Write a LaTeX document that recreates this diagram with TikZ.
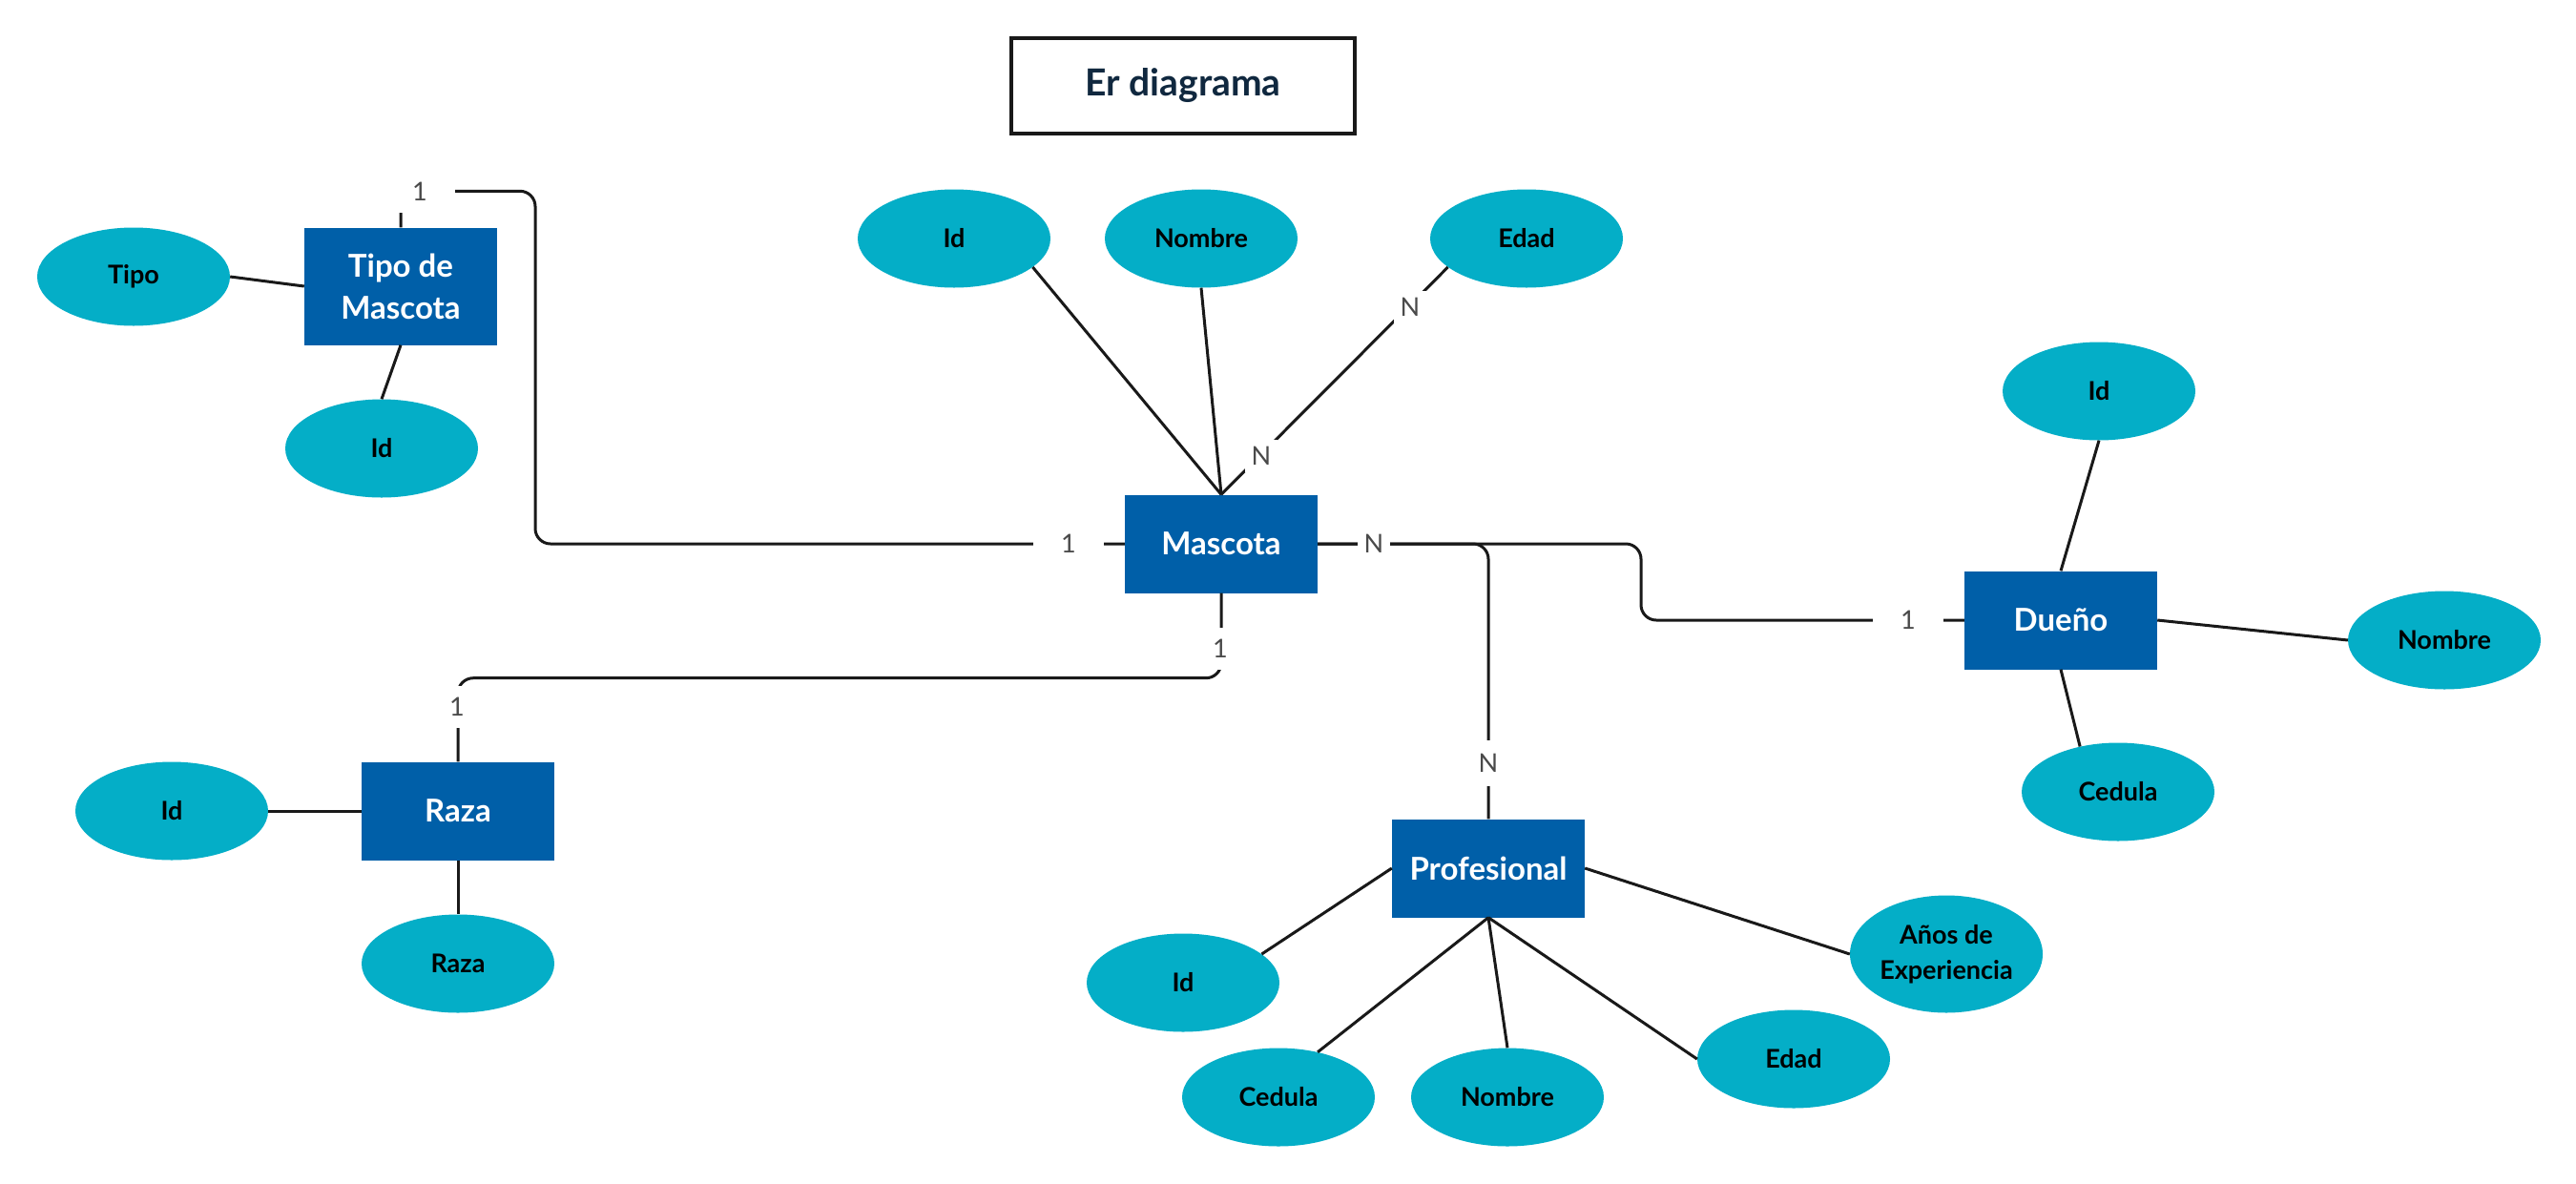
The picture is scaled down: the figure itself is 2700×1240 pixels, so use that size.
\documentclass[tikz,border=0pt]{standalone}
\usepackage{fontspec}
\setmainfont{Lato}
\usetikzlibrary{shapes.geometric}
\definecolor{entblue}{HTML}{005FA8}
\definecolor{attcyan}{HTML}{04AEC7}
\definecolor{titlenavy}{HTML}{10283F}
\definecolor{lblgray}{HTML}{4A4A4A}
\begin{document}
\begin{tikzpicture}[x=1pt,y=-1pt,
  entity/.style={rectangle, fill=entblue, text=white, font=\bfseries\fontsize{33}{44}\selectfont, minimum width=202pt, minimum height=103pt, inner sep=0pt, align=center},
  attr/.style={ellipse, fill=attcyan, text=black, font=\bfseries\fontsize{27}{37}\selectfont, minimum width=202pt, minimum height=103pt, inner sep=0pt, align=center},
  conn/.style={line width=3pt, draw=black!90},
  rel/.style={conn, rounded corners=16pt},
  card/.style={fill=white, text=lblgray, font=\fontsize{27}{30}\selectfont},
  one/.style={card, inner xsep=29pt, inner ysep=12pt},
  many/.style={card, inner xsep=7pt, inner ysep=7pt}]
\fill[white] (0,0) rectangle (2700,1240);
\useasboundingbox (0,0) rectangle (2700,1240);

% title
\node[draw=black!90, line width=4pt, minimum width=360pt, minimum height=100pt, text=titlenavy, font=\bfseries\fontsize{39}{44}\selectfont] (title) at (1240,90) {Er diagrama};

% entities
\node[entity, minimum height=123pt] (tipo) at (420,300) {Tipo de\\Mascota};
\node[entity] (mascota) at (1280,570) {Mascota};
\node[entity] (raza) at (480,850) {Raza};
\node[entity] (dueno) at (2160,650) {Dueño};
\node[entity] (prof) at (1560,910) {Profesional};

% attributes
\node[attr] (atipo) at (140,290) {Tipo};
\node[attr] (atid) at (400,470) {Id};
\node[attr] (amid) at (1000,250) {Id};
\node[attr] (amnom) at (1259,250) {Nombre};
\node[attr] (amed) at (1600,250) {Edad};
\node[attr] (adid) at (2200,410) {Id};
\node[attr] (adnom) at (2562,671) {Nombre};
\node[attr] (adced) at (2220,830) {Cedula};
\node[attr] (arid) at (180,850) {Id};
\node[attr] (arraza) at (480,1010) {Raza};
\node[attr] (apid) at (1240,1030) {Id};
\node[attr] (apced) at (1340,1150) {Cedula};
\node[attr] (apnom) at (1580,1150) {Nombre};
\node[attr] (aped) at (1880,1110) {Edad};
\node[attr, minimum height=123pt] (apexp) at (2040,1000) {Años de\\Experiencia};

% attribute links
\draw[conn] (tipo.west) -- (atipo.east);
\draw[conn] (tipo.south) -- (atid.north);
\draw[conn] (mascota.north) -- (amid.-20);
\draw[conn] (mascota.north) -- (amnom.south);
\draw[conn] (mascota.north) -- (amed.200);
\draw[conn] (dueno.north) -- (adid.south);
\draw[conn] (dueno.east) -- (adnom.west);
\draw[conn] (dueno.south) -- (adced.130);
\draw[conn] (raza.west) -- (arid.east);
\draw[conn] (raza.south) -- (arraza.north);
\draw[conn] (prof.west) -- (apid.20);
\draw[conn] (prof.south) -- (apced.49);
\draw[conn] (prof.south) -- (apnom.north);
\draw[conn] (prof.south) -- (aped.west);
\draw[conn] (prof.east) -- (apexp.west);

% relationship connectors
\coordinate (k1) at (561,570);
\coordinate (k2) at (1720,570);
\draw[rel] (tipo.north) -- ++(0,-38) -| (k1) -- (mascota.west);
\draw[rel] (mascota.south) -- ++(0,89) -| (raza.north);
\draw[rel] (mascota.east) -| (prof.north);
\draw[rel] (mascota.east) -- (k2) |- (dueno.west);

% cardinalities
\node[one] (c1) at (440,201) {1};
\node[one] (c2) at (1120,570) {1};
\node[many] (c3) at (1440,570) {N};
\node[many] (c4) at (1322,478) {N};
\node[many] (c5) at (1478,322) {N};
\node[one] (c6) at (1279,680) {1};
\node[one] (c7) at (479,741) {1};
\node[many, inner ysep=14pt] (c8) at (1560,800) {N};
\node[one] (c9) at (2000,650) {1};
\end{tikzpicture}
\end{document}
